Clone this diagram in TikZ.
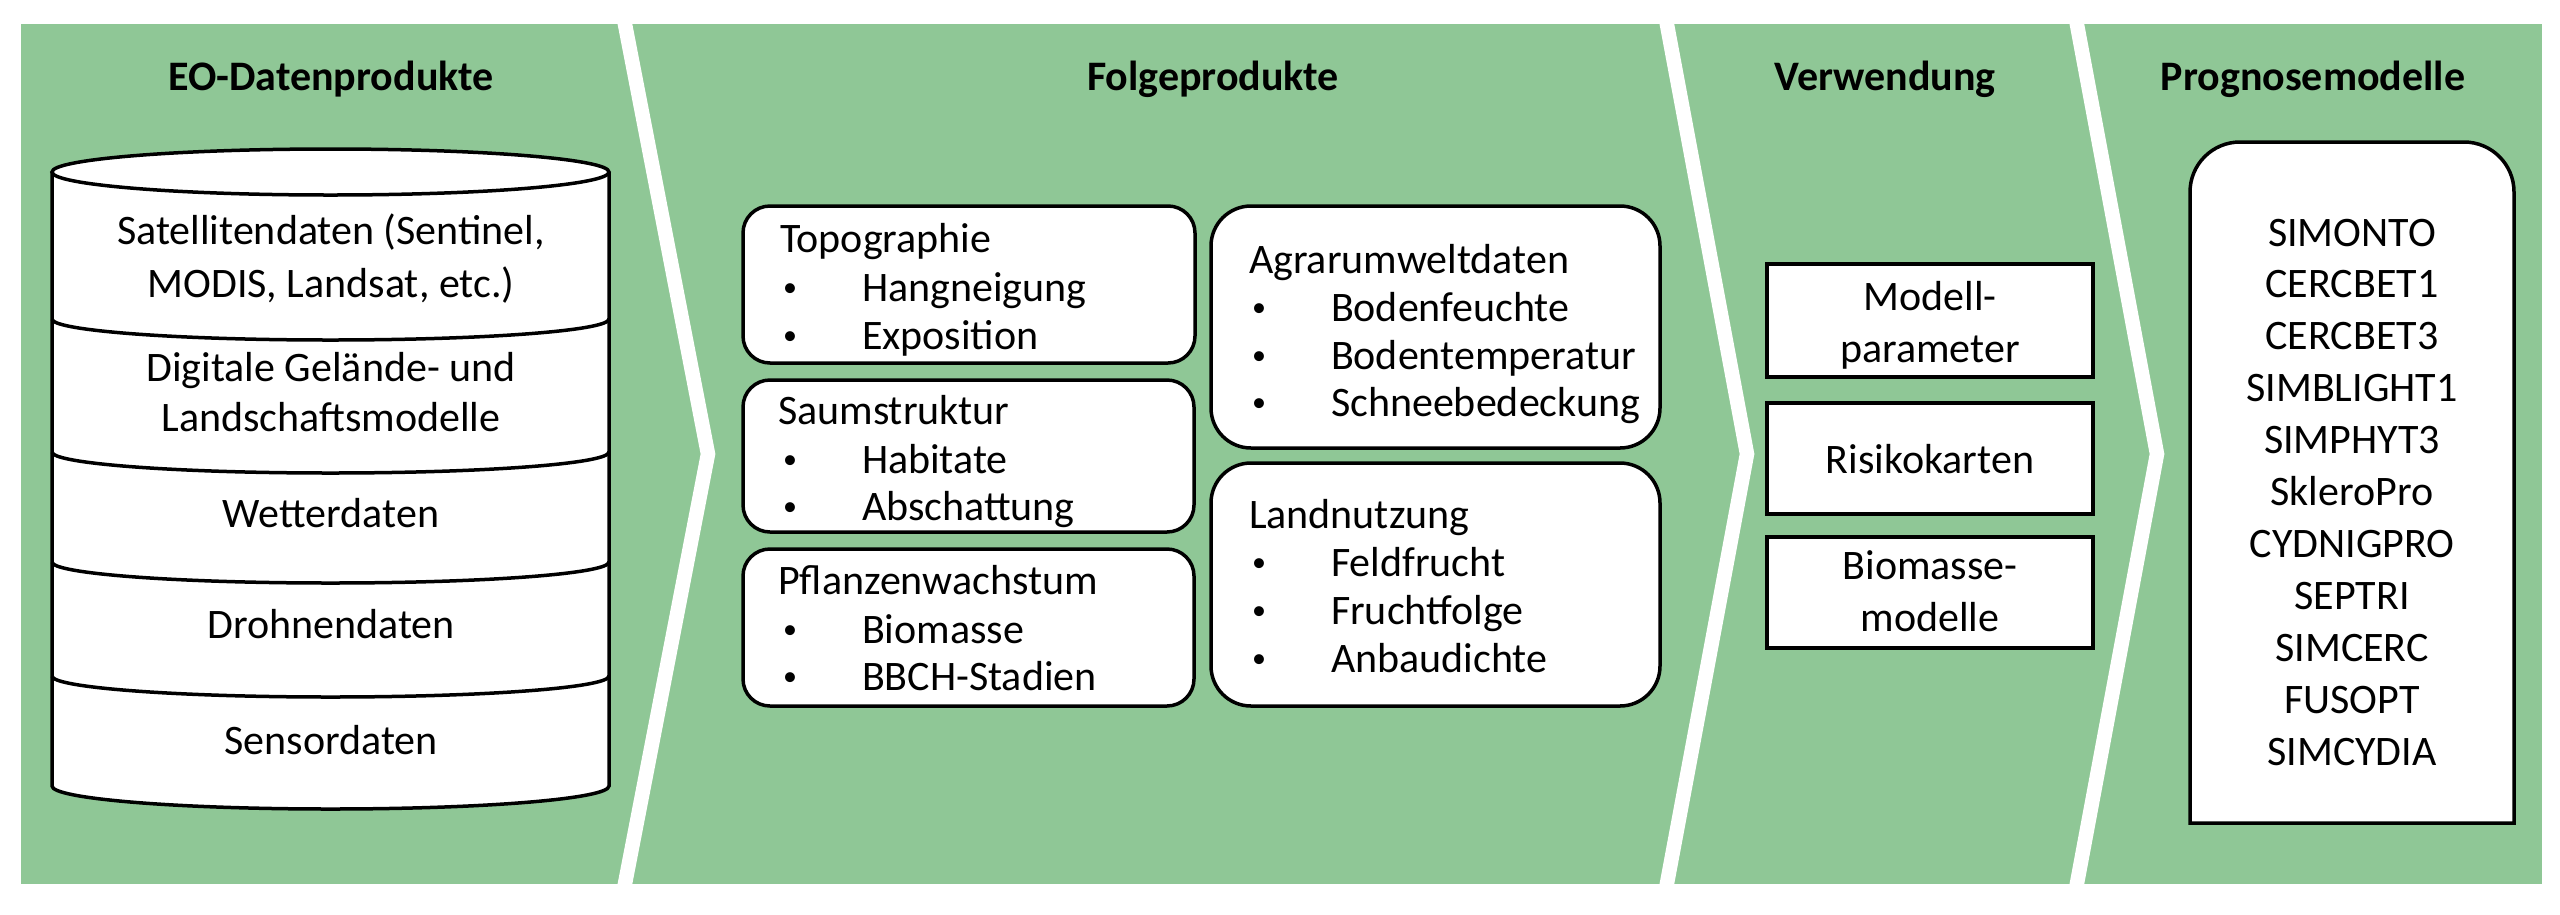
\documentclass[tikz,border=0pt]{standalone}
\usepackage{fontspec}
\setmainfont{Carlito}
\definecolor{panelgreen}{RGB}{143,199,150}
\newcommand{\smallbullet}{{\fontsize{28}{30}\selectfont\raisebox{4.5pt}{•}}}
\begin{document}
\begin{tikzpicture}[x=1pt,y=-1pt,
  txt/.style={font=\fontsize{42}{50}\selectfont, inner sep=0pt, outer sep=0pt, anchor=base},
  lft/.style={txt, anchor=base west},
  ttl/.style={txt, font=\fontsize{42}{50}\selectfont\bfseries},
  divider/.style={white, line width=14.5pt},
  cyl/.style={draw=black, line width=3.5pt},
  fbox/.style={draw=black, fill=white, line width=3.5pt, inner sep=0pt, rounded corners=27pt},
  bigbox/.style={fbox, rounded corners=40pt},
  vbox/.style={draw=black, fill=white, line width=3.5pt, inner sep=0pt, minimum width=326pt}]
\fill[white] (0,0) rectangle (2560,914);
\useasboundingbox (0,0) rectangle (2560,914);
% green band
\fill[panelgreen] (21,24) rectangle (2542,884);
% chevron dividers
\draw[divider] (623,14) -- (708,454) -- (623,894);
\draw[divider] (1665,14) -- (1747,454) -- (1665,894);
\draw[divider] (2075,14) -- (2157,454) -- (2075,894);
% titles
\node[ttl] (t-eo) at (331,90) {EO-Datenprodukte};
\node[ttl] (t-folge) at (1213,90) {Folgeprodukte};
\node[ttl] (t-verw) at (1885,90) {Verwendung};
\node[ttl] (t-prog) at (2313,90) {Prognosemodelle};
% cylinder
\fill[white] (52,172) -- (52,786) arc[start angle=180,end angle=0,x radius=278.5,y radius=23]
  -- (609,172) arc[start angle=0,end angle=-180,x radius=278.5,y radius=23] -- cycle;
\draw[cyl] (52,172) -- (52,786) arc[start angle=180,end angle=0,x radius=278.5,y radius=23] -- (609,172);
\draw[cyl] (330.5,172) ellipse[x radius=278.5, y radius=23];
\foreach \yy in {319,452,562,676}
  \draw[cyl] (52,\yy) arc[start angle=180,end angle=0,x radius=278.5,y radius=21];
\node[txt] (c1a) at (331,244) {Satellitendaten (Sentinel,};
\node[txt] (c1b) at (331,297) {MODIS, Landsat, etc.)};
\node[txt] (c2a) at (331,381) {Digitale Gelände- und};
\node[txt] (c2b) at (331,431) {Landschaftsmodelle};
\node[txt] (c3) at (331,527) {Wetterdaten};
\node[txt] (c4) at (331,638) {Drohnendaten};
\node[txt] (c5) at (331,754) {Sensordaten};
% Folgeprodukte boxes
\node[fbox, minimum width=452pt, minimum height=157pt] (topo) at (969,284.5) {};
\node[fbox, minimum width=451pt, minimum height=152pt] (saum) at (968.5,456) {};
\node[fbox, minimum width=451pt, minimum height=157pt] (pflanz) at (968.5,627.5) {};
\node[bigbox, minimum width=449pt, minimum height=242pt] (agrar) at (1435.5,327) {};
\node[bigbox, minimum width=449pt, minimum height=243pt] (land) at (1435.5,584.5) {};
% left column texts
\node[lft] (topo-h) at (780,252) {Topographie};
\node[lft] (topo-b1) at (783,301) {\smallbullet};
\node[lft] (topo-1) at (862,301) {Hangneigung};
\node[lft] (topo-b2) at (783,349) {\smallbullet};
\node[lft] (topo-2) at (862,349) {Exposition};
\node[lft] (saum-h) at (778,424) {Saumstruktur};
\node[lft] (saum-b1) at (783,473) {\smallbullet};
\node[lft] (saum-1) at (862,473) {Habitate};
\node[lft] (saum-b2) at (783,520) {\smallbullet};
\node[lft] (saum-2) at (862,520) {Abschattung};
\node[lft] (pfl-h) at (778,594) {Pflanzenwachstum};
\node[lft] (pfl-b1) at (783,643) {\smallbullet};
\node[lft] (pfl-1) at (862,643) {Biomasse};
\node[lft] (pfl-b2) at (783,690) {\smallbullet};
\node[lft] (pfl-2) at (862,690) {BBCH-Stadien};
% right column texts
\node[lft] (agr-h) at (1249,273) {Agrarumweltdaten};
\node[lft] (agr-b1) at (1252,321) {\smallbullet};
\node[lft] (agr-1) at (1331,321) {Bodenfeuchte};
\node[lft] (agr-b2) at (1252,369) {\smallbullet};
\node[lft] (agr-2) at (1331,369) {Bodentemperatur};
\node[lft] (agr-b3) at (1252,416) {\smallbullet};
\node[lft] (agr-3) at (1331,416) {Schneebedeckung};
\node[lft] (land-h) at (1249,528) {Landnutzung};
\node[lft] (land-b1) at (1252,576) {\smallbullet};
\node[lft] (land-1) at (1331,576) {Feldfrucht};
\node[lft] (land-b2) at (1252,624) {\smallbullet};
\node[lft] (land-2) at (1331,624) {Fruchtfolge};
\node[lft] (land-b3) at (1252,672) {\smallbullet};
\node[lft] (land-3) at (1331,672) {Anbaudichte};
% Verwendung boxes
\node[vbox, minimum height=113pt] (modell) at (1930,320.5) {};
\node[vbox, minimum height=111pt] (risiko) at (1930,458.5) {};
\node[vbox, minimum height=111pt] (biom) at (1930,592.5) {};
\node[txt] (modell-a) at (1930,310) {Modell-};
\node[txt] (modell-b) at (1930,362) {parameter};
\node[txt] (risiko-t) at (1930,473) {Risikokarten};
\node[txt] (biom-a) at (1930,579) {Biomasse-};
\node[txt] (biom-b) at (1930,631) {modelle};
% Prognosemodelle box
\draw[line width=3.5pt, fill=white] (2190,823) -- (2190,192)
  arc[start angle=180,end angle=270,radius=50] -- (2464,142)
  arc[start angle=270,end angle=360,radius=50] -- (2514,823) -- cycle;
\foreach \name [count=\i from 0] in {SIMONTO,CERCBET1,CERCBET3,SIMBLIGHT1,SIMPHYT3,SkleroPro,CYDNIGPRO,SEPTRI,SIMCERC,FUSOPT,SIMCYDIA}
  \node[txt] (prog-\i) at (2352,246+51.9*\i) {\name};
\end{tikzpicture}
\end{document}
